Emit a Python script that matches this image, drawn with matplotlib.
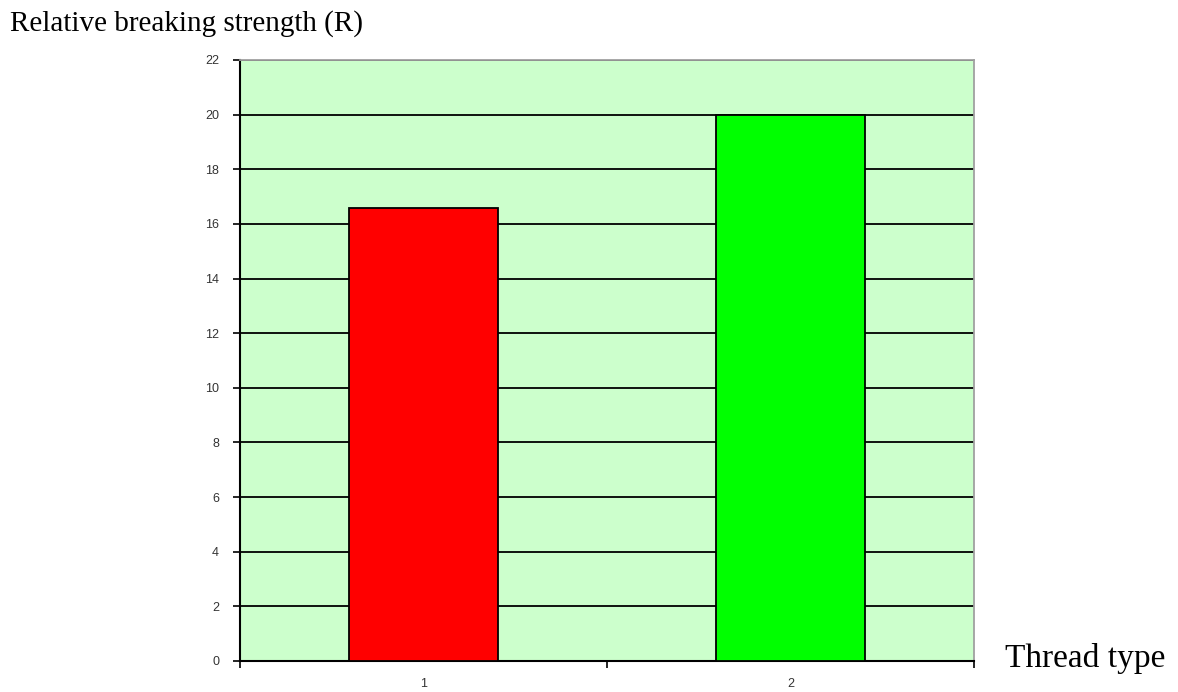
import matplotlib
matplotlib.use('Agg')
import matplotlib.pyplot as plt
from matplotlib.ticker import FixedLocator

# data
thread_types = ['1', '2']
strength = [16.6, 20.0]
bar_colors = ['#FF0000', '#00FF00']
y_ticks = list(range(0, 23, 2))

fig = plt.figure(figsize=(11.78, 6.92), dpi=100)
ax = fig.add_axes([0.2037, 0.0448, 0.6231, 0.8685])
ax.set_facecolor('#CCFFCC')

x = list(range(len(thread_types)))
ax.set_axisbelow(True)
ax.yaxis.grid(True, color='black', linewidth=1.3)
ax.bar(x, strength, width=0.405, color=bar_colors, edgecolor='black', linewidth=1.3, zorder=3)

ax.set_xlim(-0.5, 1.5)
ax.set_ylim(0, 22)
ax.set_yticks(y_ticks)
ax.set_xticks(x)
ax.set_xticklabels(thread_types)
ax.xaxis.set_minor_locator(FixedLocator([-0.5, 0.5, 1.5]))

ax.tick_params(axis='y', direction='out', length=5, width=1.2, labelsize=9, colors='black', pad=10)
ax.tick_params(axis='x', which='major', length=0, labelsize=9, pad=12)
ax.tick_params(axis='x', which='minor', direction='out', length=5, width=1.2)
for lbl in ax.get_xticklabels() + ax.get_yticklabels():
    lbl.set_fontfamily('Liberation Sans')
    lbl.set_color('#333333')

ax.spines['left'].set_color('black')
ax.spines['bottom'].set_color('black')
ax.spines['left'].set_linewidth(1.5)
ax.spines['bottom'].set_linewidth(1.5)
ax.spines['top'].set_color('#A0A0A0')
ax.spines['right'].set_color('#A0A0A0')
ax.spines['top'].set_linewidth(1.3)
ax.spines['right'].set_linewidth(1.3)

fig.text(10 / 1178, 1 - 24 / 692, 'Relative breaking strength (R)', fontfamily='Liberation Serif',
         fontsize=21, va='center', ha='left', color='black')
fig.text(1005 / 1178, 1 - 658 / 692, 'Thread type', fontfamily='Liberation Serif',
         fontsize=24, va='center', ha='left', color='black')

fig.savefig('out.png', dpi=100)
